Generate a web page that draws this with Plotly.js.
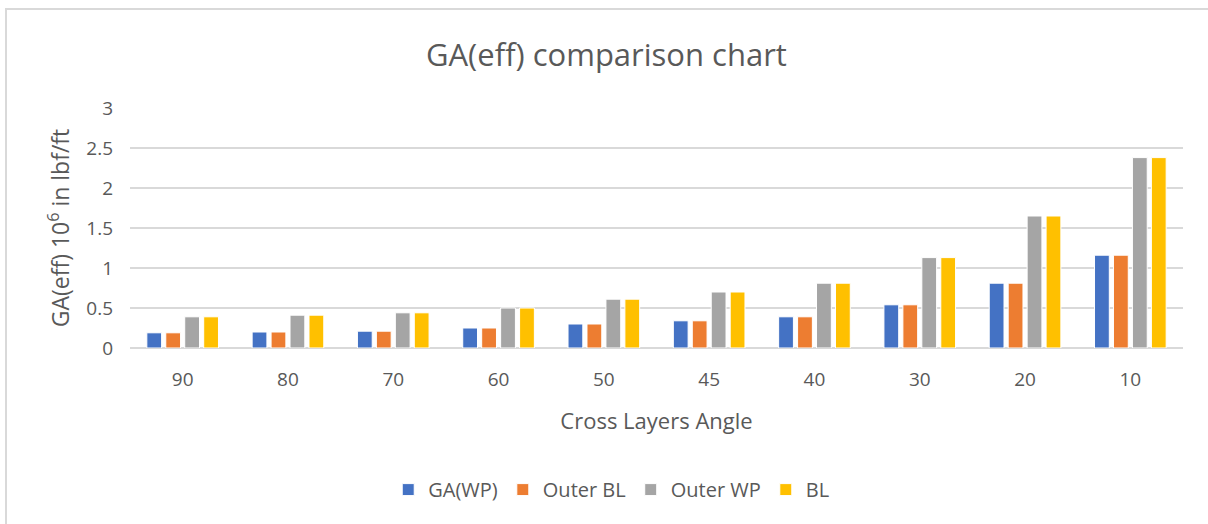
<!DOCTYPE html>
<html>
<head>
<meta charset="utf-8">
<script src="https://cdn.plot.ly/plotly-3.0.1.min.js"></script>
<style>
  body { margin: 0; background: #fff; }
  #frame { position: absolute; left: 5px; top: 8px; width: 1300px; height: 600px;
           border-left: 2px solid #d9d9d9; border-top: 2px solid #d9d9d9; }
  #chart { position: absolute; left: 0; top: 0; width: 1208px; height: 524px; }
</style>
</head>
<body>
<div id="frame"></div>
<div id="chart"></div>
<script>
const angles = ["90", "80", "70", "60", "50", "45", "40", "30", "20", "10"];
const gaWP = [0.19, 0.20, 0.21, 0.25, 0.30, 0.34, 0.39, 0.54, 0.81, 1.16];
const outerBL = [0.19, 0.20, 0.21, 0.25, 0.30, 0.34, 0.39, 0.54, 0.81, 1.16];
const outerWP = [0.39, 0.41, 0.44, 0.50, 0.61, 0.70, 0.81, 1.13, 1.65, 2.38];
const bl = [0.39, 0.41, 0.44, 0.50, 0.61, 0.70, 0.81, 1.13, 1.65, 2.38];

const SERIES = [
    { name: "GA(WP)", y: gaWP, color: "#4472c4" },
    { name: "Outer BL", y: outerBL, color: "#ed7d31" },
    { name: "Outer WP", y: outerWP, color: "#a5a5a5" },
    { name: "BL", y: bl, color: "#ffc000" },
];

const textColor = "#595959";
const font = "Open Sans, sans-serif";

Plotly.newPlot("chart", SERIES.map(s => ({
    type: "bar",
    name: s.name,
    x: angles,
    y: s.y,
    marker: { color: s.color, line: { color: "#ffffff", width: 1 } },
    hoverinfo: "name+y",
})), {
    width: 1208,
    height: 524,
    margin: { l: 130, r: 25, t: 108, b: 176 },
    paper_bgcolor: "rgba(0,0,0,0)",
    plot_bgcolor: "rgba(0,0,0,0)",
    font: { family: font, color: textColor, size: 18 },
    title: {
        text: "GA(eff) comparison chart",
        font: { size: 31, color: textColor, family: font },
        x: 0.502, xanchor: "center",
        y: 0.895, yanchor: "middle",
    },
    barmode: "group",
    bargap: 0.28,
    bargroupgap: 0.22,
    xaxis: {
        type: "category",
        showgrid: false,
        showline: false,
        ticks: "",
        ticklabelstandoff: 18,
        tickfont: { size: 19, color: textColor },
        title: { text: "Cross Layers Angle", font: { size: 22, color: textColor }, standoff: 22 },
    },
    yaxis: {
        range: [0, 3],
        dtick: 0.5,
        showgrid: true,
        gridcolor: "#d9d9d9",
        gridwidth: 2,
        zeroline: true,
        zerolinecolor: "#d9d9d9",
        zerolinewidth: 2,
        showline: false,
        ticks: "",
        ticklabelstandoff: 16,
        tickfont: { size: 19, color: textColor },
        title: { text: "GA(eff) 10<sup>6</sup> in lbf/ft", font: { size: 23, color: textColor }, standoff: 10 },
    },
    legend: {
        orientation: "h",
        x: 0.457, xanchor: "center",
        y: -0.59, yanchor: "middle",
        font: { size: 20, color: textColor },
        itemwidth: 30,
        traceorder: "normal",
    },
    showlegend: true,
}, { displayModeBar: false });
</script>
</body>
</html>
